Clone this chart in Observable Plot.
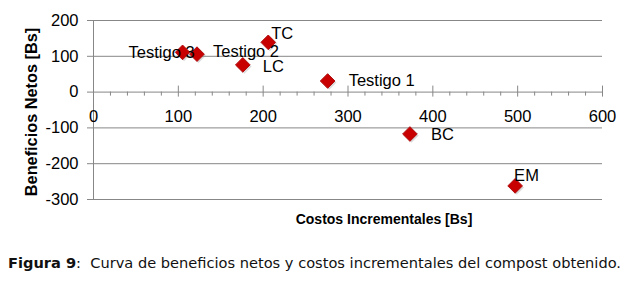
<!DOCTYPE html>
<html><head><meta charset="utf-8">
<script src="https://cdn.jsdelivr.net/npm/d3@7"></script>
<script src="https://cdn.jsdelivr.net/npm/@observablehq/plot@0.6"></script>
<style>
body{margin:0;background:#fff;width:635px;height:282px;overflow:hidden;position:relative}
#chart{position:absolute;left:0;top:0}
#caption{position:absolute;left:8px;top:254px;font-family:"DejaVu Sans",sans-serif;font-size:14.6px;white-space:nowrap;color:#111}
</style></head><body>
<div id="chart"></div>
<div id="caption"><b>Figura 9</b>:&nbsp; Curva de beneficios netos y costos incrementales del compost obtenido.</div>
<script>
// Data
const treatments = ["Testigo 3", "Testigo 2", "LC", "TC", "Testigo 1", "BC", "EM"];
const costs = [105, 122, 176, 206, 276, 373, 497];      // Costos Incrementales [Bs]
const benefits = [111, 106, 76, 139, 31, -117, -262];  // Beneficios Netos [Bs]
const xTicks = [0, 100, 200, 300, 400, 500, 600];
const xMinorTicks = [20, 40, 60, 80, 120, 140, 160, 180, 220, 240, 260, 280, 320, 340, 360, 380, 420, 440, 460, 480, 520, 540, 560, 580];
const yTicks = [200, 100, 0, -100, -200, -300];
const xTitle = "Costos Incrementales [Bs]";
const yTitle = "Beneficios Netos [Bs]";

const data = treatments.map((name, i) => ({name, cost: costs[i], benefit: benefits[i]}));

// label placement (layout only)
const labelLayout = {
  "Testigo 3": {dx: 12, dy: 0, textAnchor: "end"},
  "Testigo 2": {dx: 16, dy: -2, textAnchor: "start"},
  "LC": {dx: 20, dy: 2, textAnchor: "start"},
  "TC": {dx: 3, dy: -9, textAnchor: "start"},
  "Testigo 1": {dx: 21, dy: 0, textAnchor: "start"},
  "BC": {dx: 21, dy: 1, textAnchor: "start"},
  "EM": {dx: -1, dy: -10, textAnchor: "start"}
};

const grid = "#878787";
const chart = Plot.plot({
  width: 635,
  height: 240,
  marginLeft: 93,
  marginRight: 33,
  marginTop: 20,
  marginBottom: 41,
  x: {domain: [0, 600], axis: null},
  y: {domain: [-300, 200]},
  style: {fontFamily: "'Liberation Sans', Arial, sans-serif", fontSize: "16.5px", color: "#000", background: "#fff"},
  marks: [
    Plot.gridY(yTicks, {stroke: grid, strokeOpacity: 1}),
    Plot.ruleX([0], {stroke: grid}),
    Plot.axisY(yTicks, {tickSize: 6, tickPadding: 9, stroke: grid, fill: "#000", tickFormat: d => String(d), label: null, fontSize: 16.5}),
    Plot.ruleX(xTicks, {x: d => d, y1: 0, y2: 0, insetTop: -6, insetBottom: -5, stroke: grid}),
    Plot.ruleX(xMinorTicks, {x: d => d, y1: 0, y2: 0, insetTop: 0, insetBottom: -4, stroke: grid}),
    Plot.text(xTicks, {x: d => d, y: 0, dy: 25, text: d => String(d), fontSize: 16.5}),
    Plot.dot(data, {x: "cost", y: "benefit", symbol: "diamond2", r: 6.6, fill: "#999", fillOpacity: 0.35, dx: 1.5, dy: 1.5}),
    Plot.dot(data, {x: "cost", y: "benefit", symbol: "diamond2", r: 6.6, fill: "#c80000", stroke: "#b01010", strokeWidth: 1}),
    ...treatments.map(name => Plot.text(data.filter(d => d.name === name), {
      x: "cost", y: "benefit", text: "name", fontSize: 16.5, fill: "#000", ...labelLayout[name]
    })),
    Plot.text([xTitle], {frameAnchor: "bottom", dx: 36, dy: 20, lineAnchor: "middle", fontWeight: "bold", fontSize: 14}),
    Plot.text([yTitle], {frameAnchor: "left", dx: -62, dy: 2, rotate: -90, textAnchor: "middle", lineAnchor: "middle", fontWeight: "bold", fontSize: 16.3})
  ]
});
document.getElementById("chart").appendChild(chart);
</script>
</body></html>
